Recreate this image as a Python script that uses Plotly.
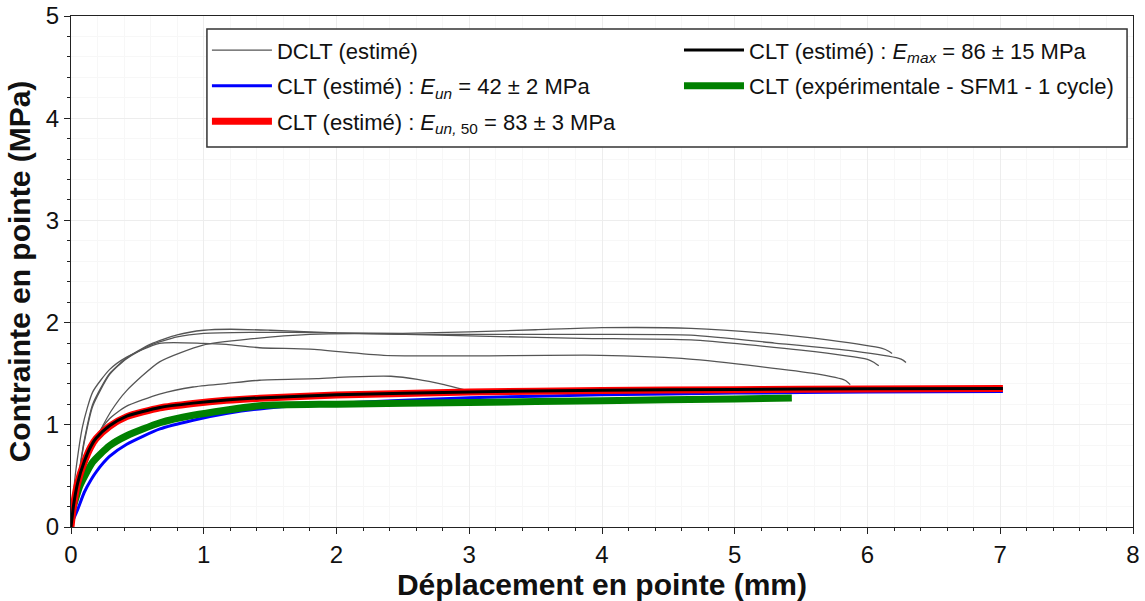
import plotly.graph_objects as go

# ---------------- data ----------------
# CLT estimated curves (x in mm, y in MPa)
x_clt = [0, 0.02, 0.05, 0.1, 0.15, 0.19, 0.29, 0.42, 0.67, 0.92, 1.17, 1.42, 2.0, 3.0, 4.0, 5.0, 6.0, 7.02]
y_emax = [0, 0.22, 0.43, 0.64, 0.79, 0.87, 0.99, 1.085, 1.17, 1.212, 1.243, 1.263, 1.294, 1.322, 1.338, 1.346, 1.352, 1.356]
y_eun50 = [0, 0.22, 0.43, 0.635, 0.785, 0.865, 0.985, 1.08, 1.166, 1.209, 1.24, 1.26, 1.291, 1.32, 1.336, 1.344, 1.35, 1.354]
y_eun = [0, 0.08, 0.17, 0.34, 0.46, 0.54, 0.69, 0.81, 0.96, 1.045, 1.11, 1.155, 1.21, 1.265, 1.293, 1.31, 1.32, 1.327]

# experimental CLT (SFM1 - 1 cycle)
x_exp = [0, 0.02, 0.063, 0.1, 0.163, 0.29, 0.42, 0.67, 0.92, 1.42, 2.0, 3.0, 4.0, 5.0, 5.43]
y_exp = [0.12, 0.21, 0.39, 0.49, 0.635, 0.795, 0.893, 1.02, 1.093, 1.186, 1.202, 1.219, 1.236, 1.253, 1.262]

# DCLT estimated curves
x_d1 = [0, 0.02, 0.05, 0.1, 0.163, 0.29, 0.416, 0.6, 0.8, 1.0, 1.2, 1.5, 2.0, 2.5, 3.0, 3.5, 4.0, 4.67, 5.2, 5.7, 6.11, 6.16, 6.185]
y_d1 = [0, 0.25, 0.45, 0.85, 1.2, 1.5, 1.65, 1.79, 1.88, 1.925, 1.935, 1.925, 1.90, 1.895, 1.91, 1.93, 1.95, 1.944, 1.90, 1.83, 1.747, 1.72, 1.698]

x_d2 = [0, 0.02, 0.05, 0.1, 0.163, 0.29, 0.416, 0.6, 0.8, 1.0, 1.35, 2.0, 2.5, 3.0, 3.84, 4.67, 5.3, 5.9, 6.236, 6.27, 6.29]
y_d2 = [0, 0.24, 0.44, 0.83, 1.18, 1.49, 1.645, 1.78, 1.86, 1.895, 1.905, 1.90, 1.885, 1.885, 1.885, 1.878, 1.80, 1.72, 1.649, 1.63, 1.61]

x_d3 = [0, 0.05, 0.1, 0.19, 0.3, 0.416, 0.667, 0.995, 1.35, 1.8, 2.36, 3.0, 3.84, 4.67, 5.5, 6.0, 6.05, 6.085]
y_d3 = [0, 0.43, 0.64, 0.87, 1.13, 1.33, 1.616, 1.78, 1.84, 1.885, 1.89, 1.87, 1.846, 1.83, 1.73, 1.64, 1.61, 1.577]

x_d4 = [0, 0.02, 0.038, 0.088, 0.163, 0.29, 0.416, 0.667, 0.995, 1.17, 1.42, 1.8, 2.355, 2.99, 3.99, 4.6, 5.1, 5.605, 5.83, 5.87]
y_d4 = [0, 0.35, 0.57, 0.99, 1.32, 1.54, 1.66, 1.797, 1.797, 1.787, 1.754, 1.74, 1.68, 1.675, 1.68, 1.649, 1.583, 1.50, 1.436, 1.393]

x_d5 = [0, 0.05, 0.1, 0.19, 0.29, 0.416, 0.667, 0.919, 1.17, 1.42, 1.85, 2.10, 2.41, 2.61, 2.81, 2.96]
y_d5 = [0, 0.43, 0.64, 0.88, 1.06, 1.18, 1.3, 1.37, 1.403, 1.436, 1.452, 1.469, 1.475, 1.445, 1.393, 1.344]

dclt_x = [x_d1, x_d2, x_d3, x_d4, x_d5]
dclt_y = [y_d1, y_d2, y_d3, y_d4, y_d5]

x_ticks = [0, 1, 2, 3, 4, 5, 6, 7, 8]
y_ticks = [0, 1, 2, 3, 4, 5]

FONT = "Liberation Sans, Arial, sans-serif"

fig = go.Figure()

for i, (xs, ys) in enumerate(zip(dclt_x, dclt_y)):
    fig.add_trace(go.Scatter(
        x=xs, y=ys, mode="lines", line=dict(color="#555555", width=1.3, shape="spline", smoothing=0.6),
        name="DCLT (estimé)", showlegend=(i == 0), legend="legend", legendgroup="g1"))

fig.add_trace(go.Scatter(
    x=x_clt, y=y_eun, mode="lines", line=dict(color="#0000ff", width=3, shape="spline", smoothing=0.6),
    name="CLT (estimé) : <i>E</i><sub><i>un</i></sub> = 42 ± 2 MPa", legend="legend", legendgroup="g2"))
fig.add_trace(go.Scatter(
    x=x_exp, y=y_exp, mode="lines", line=dict(color="#008000", width=7, shape="spline", smoothing=0.6),
    name="CLT (expérimentale - SFM1 - 1 cycle)", legend="legend2", legendgroup="g5", legendrank=2))
fig.add_trace(go.Scatter(
    x=x_clt, y=y_eun50, mode="lines", line=dict(color="#ff0000", width=7, shape="spline", smoothing=0.6),
    name="CLT (estimé) : <i>E</i><sub><i>un,</i> 50</sub> = 83 ± 3 MPa", legend="legend", legendgroup="g3"))
fig.add_trace(go.Scatter(
    x=x_clt, y=y_emax, mode="lines", line=dict(color="#000000", width=3, shape="spline", smoothing=0.6),
    name="CLT (estimé) : <i>E</i><sub><i>max</i></sub> = 86 ± 15 MPa", legend="legend2", legendgroup="g4", legendrank=1))

axis_common = dict(
    showline=True, linecolor="#222222", linewidth=1.2, mirror=True,
    ticks="outside", ticklen=6, tickwidth=1.2, tickcolor="#222222",
    showgrid=True, gridcolor="#ededed", gridwidth=1, zeroline=False,
    automargin=False, ticklabeloverflow="allow",
    tickfont=dict(family=FONT, size=24, color="#111111"),
    minor=dict(ticks="outside", ticklen=3, tickcolor="#222222", tickwidth=1,
               showgrid=True, gridcolor="#f7f7f7", dtick=0.2),
)

fig.update_xaxes(**axis_common, range=[0, 8], tickvals=x_ticks, tick0=0,
                 title=dict(text="<b>Déplacement en pointe (mm)</b>", font=dict(family=FONT, size=30, color="#111111"), standoff=5))
fig.update_yaxes(**axis_common, range=[0, 5], tickvals=y_ticks, tick0=0,
                 title=dict(text="<b>Contrainte en pointe (MPa)</b>", font=dict(family=FONT, size=30, color="#111111"), standoff=6))

legend_common = dict(
    orientation="v", yanchor="top", xanchor="left",
    borderwidth=0, bgcolor="rgba(0,0,0,0)",
    font=dict(family=FONT, size=22, color="#111111"),
    itemwidth=60, tracegroupgap=4, traceorder="grouped",
)

fig.update_layout(
    width=1145, height=601,
    margin=dict(l=71, r=12, t=16, b=74),
    plot_bgcolor="white", paper_bgcolor="white",
    font=dict(family=FONT, color="#111111"),
    showlegend=True,
    legend=dict(**legend_common, x=0.128, y=0.974),
    legend2=dict(**legend_common, x=0.5725, y=0.974),
    shapes=[dict(type="rect", xref="paper", yref="paper",
                 x0=0.128, x1=0.9944, y0=0.7436, y1=0.9746,
                 line=dict(color="#333333", width=1.5), fillcolor="white", layer="above")],
)

fig.write_html("out.html", config={"displayModeBar": False},
               post_script="document.body.style.margin='0';")
